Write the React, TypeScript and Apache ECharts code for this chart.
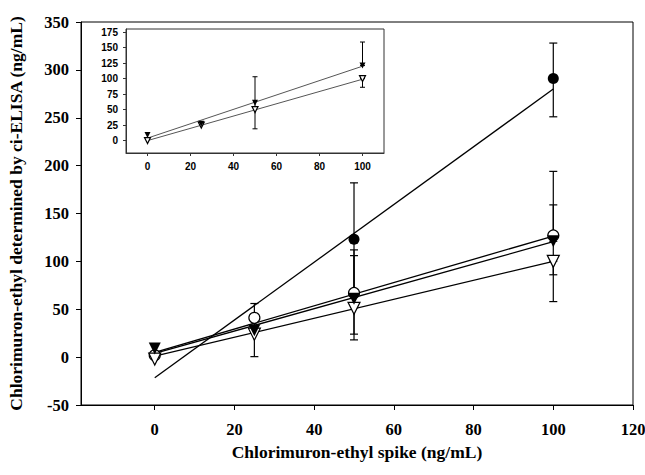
import React, { useEffect, useRef } from "react";
import * as echarts from "echarts";

// ---- Main chart data ----
const spike = [0, 25, 50, 100];
const filledCircleY: (number | null)[] = [null, null, 123, 291];
const openCircleY = [2, 41, 67, 127];
const filledTriY = [9, 28, 61, 121];
const openTriY = [-2, 24, 51, 100];

// error bars: [x, low, high]
const filledCircleErr = [[50, 64, 182], [100, 251, 328]];
const openCircleErr = [[50, 24, 112], [100, 58, 194]];
const filledTriErr = [[25, 0.5, 56], [50, 18, 106], [100, 121, 159]];
const openTriErr = [[100, 86, 100]];

// regression lines: [x0, y0, x1, y1]
const filledCircleFit = [0, -21.5, 100, 280];
const openCircleFit = [0, 5, 100, 126.5];
const filledTriFit = [0, 4, 100, 120.5];
const openTriFit = [0, 1, 100, 100];

const mainXTicks = [0, 20, 40, 60, 80, 100, 120];

// ---- Inset data ----
const insetSpike = [0, 25, 50, 100];
const insetFilledTriY = [9, 27, 61, 121];
const insetOpenTriY = [0, 25, 50, 100];
const insetFilledTriErr = [[50, 19, 103], [100, 121, 159]];
const insetOpenTriErr = [[100, 86, 100]];
const insetFilledTriFit = [0, 4, 100, 120];
const insetOpenTriFit = [0, 0, 100, 99];
const insetXTicks = [0, 20, 40, 60, 80, 100];
const insetYTicks = [0, 25, 50, 75, 100, 125, 150, 175];

const pairs = (xs: number[], ys: (number | null)[]) =>
  xs.map((x, i) => [x, ys[i]]).filter((p) => p[1] !== null);
const fitLine = (f: number[]) => [[f[0], f[1]], [f[2], f[3]]];

function errRender(capHalf: number, width: number) {
  return (params: any, api: any) => {
    const x = api.value(0);
    const lo = api.value(1);
    const hi = api.value(2);
    const pLo = api.coord([x, lo]);
    const pHi = api.coord([x, hi]);
    const style = { stroke: "#000", lineWidth: width, fill: "none" };
    return {
      type: "group",
      children: [
        { type: "line", shape: { x1: pLo[0], y1: pLo[1], x2: pHi[0], y2: pHi[1] }, style },
        { type: "line", shape: { x1: pHi[0] - capHalf, y1: pHi[1], x2: pHi[0] + capHalf, y2: pHi[1] }, style },
        { type: "line", shape: { x1: pLo[0] - capHalf, y1: pLo[1], x2: pLo[0] + capHalf, y2: pLo[1] }, style },
      ],
    };
  };
}

export default function App() {
  const ref = useRef<HTMLDivElement>(null);
  useEffect(() => {
    if (!ref.current) return;
    const chart = echarts.init(ref.current, null, { renderer: "svg" });
    const serif = "'Liberation Serif', 'Times New Roman', serif";
    const sans = "'Liberation Sans', Arial, sans-serif";

    const errSeries = (data: number[][], xi: number, cap: number, w: number) => ({
      type: "custom",
      xAxisIndex: xi,
      yAxisIndex: xi,
      renderItem: errRender(cap, w),
      data,
      encode: { x: 0, y: [1, 2] },
      z: 2,
      silent: true,
    });
    const lineSeries = (data: number[][], xi: number, color: string, w: number) => ({
      type: "line",
      xAxisIndex: xi,
      yAxisIndex: xi,
      data,
      symbol: "none",
      lineStyle: { color, width: w },
      z: 3,
      silent: true,
    });
    const markSeries = (
      data: any[],
      xi: number,
      symbol: string,
      size: number,
      filled: boolean,
      rotate = 0
    ) => ({
      type: "scatter",
      xAxisIndex: xi,
      yAxisIndex: xi,
      data,
      symbol,
      symbolSize: size,
      symbolRotate: rotate,
      itemStyle: {
        color: filled ? "#000" : "#fff",
        borderColor: "#000",
        borderWidth: filled ? 0 : 1.2,
        opacity: 1,
      },
      z: 4,
      silent: true,
    });

    const option: any = {
      animation: false,
      backgroundColor: "#fff",
      grid: [
        {
          left: 81,
          top: 22,
          width: 552,
          height: 383,
          show: true,
          borderColor: "#000",
          borderWidth: 1,
          backgroundColor: "#fff",
          outerBoundsMode: "none",
        },
        {
          left: 126,
          top: 29,
          width: 258,
          height: 124,
          show: true,
          borderColor: "#333",
          borderWidth: 1,
          backgroundColor: "#fff",
          outerBoundsMode: "none",
          z: 10,
        },
      ],
      xAxis: [
        {
          type: "value",
          gridIndex: 0,
          min: -18.5,
          max: 120,
          name: "Chlorimuron-ethyl spike (ng/mL)",
          nameLocation: "middle",
          nameGap: 38,
          nameTextStyle: { fontFamily: serif, fontWeight: "bold", fontSize: 17.5, color: "#000" },
          axisLine: { show: true, onZero: false, lineStyle: { color: "#000", width: 1 } },
          axisTick: { show: true, inside: false, length: 5, customValues: mainXTicks, lineStyle: { color: "#000" } },
          axisLabel: {
            customValues: mainXTicks,
            fontFamily: serif,
            fontWeight: "bold",
            fontSize: 16.5,
            color: "#000",
            margin: 16,
          },
          splitLine: { show: false },
        },
        {
          type: "value",
          gridIndex: 1,
          min: -10,
          max: 110,
          axisLine: { show: true, onZero: false, lineStyle: { color: "#333", width: 1 } },
          axisTick: { show: true, inside: false, length: 3, customValues: insetXTicks, lineStyle: { color: "#333" } },
          axisLabel: {
            customValues: insetXTicks,
            fontFamily: sans,
            fontWeight: "bold",
            fontSize: 10,
            color: "#000",
            margin: 8,
          },
          splitLine: { show: false },
          z: 11,
        },
      ],
      yAxis: [
        {
          type: "value",
          gridIndex: 0,
          min: -50,
          max: 350,
          interval: 50,
          name: "Chlorimuron-ethyl determined by ci-ELISA (ng/mL)",
          nameLocation: "middle",
          nameGap: 56,
          nameTextStyle: { fontFamily: serif, fontWeight: "bold", fontSize: 17.5, color: "#000" },
          axisLine: { show: true, onZero: false, lineStyle: { color: "#000", width: 1 } },
          axisTick: { show: true, inside: false, length: 5, lineStyle: { color: "#000" } },
          axisLabel: {
            fontFamily: serif,
            fontWeight: "bold",
            fontSize: 16.5,
            color: "#000",
            margin: 12,
          },
          splitLine: { show: false },
        },
        {
          type: "value",
          gridIndex: 1,
          min: -20,
          max: 180,
          axisLine: { show: true, onZero: false, lineStyle: { color: "#333", width: 1 } },
          axisTick: { show: true, inside: false, length: 3, customValues: insetYTicks, lineStyle: { color: "#333" } },
          axisLabel: {
            customValues: insetYTicks,
            fontFamily: sans,
            fontWeight: "bold",
            fontSize: 10,
            color: "#000",
            margin: 8,
          },
          splitLine: { show: false },
          z: 11,
        },
      ],
      series: [
        // main error bars
        errSeries(filledCircleErr, 0, 4, 1.2),
        errSeries(openCircleErr, 0, 4, 1.2),
        errSeries(filledTriErr, 0, 4, 1.2),
        errSeries(openTriErr, 0, 4, 1.2),
        // main regression lines
        lineSeries(fitLine(filledCircleFit), 0, "#000", 1.3),
        lineSeries(fitLine(openCircleFit), 0, "#000", 1.3),
        lineSeries(fitLine(filledTriFit), 0, "#000", 1.3),
        lineSeries(fitLine(openTriFit), 0, "#000", 1.3),
        // main markers
        markSeries(pairs(spike, filledCircleY), 0, "circle", 11, true),
        markSeries(pairs(spike, openCircleY), 0, "circle", 11, false),
        markSeries(pairs(spike, openTriY), 0, "triangle", 12, false, 180),
        markSeries(pairs(spike, filledTriY), 0, "triangle", 12, true, 180),
        // inset
        { ...errSeries(insetFilledTriErr, 1, 2.5, 1), z: 12 },
        { ...errSeries(insetOpenTriErr, 1, 2.5, 1), z: 12 },
        { ...lineSeries(fitLine(insetFilledTriFit), 1, "#555", 1), z: 13 },
        { ...lineSeries(fitLine(insetOpenTriFit), 1, "#555", 1), z: 13 },
        { ...markSeries(pairs(insetSpike, insetOpenTriY), 1, "triangle", 6, false, 180), z: 14 },
        { ...markSeries(pairs(insetSpike, insetFilledTriY), 1, "triangle", 6, true, 180), z: 14 },
      ],
    };
    chart.setOption(option);
    return () => chart.dispose();
  }, []);
  return <div ref={ref} style={{ width: 645, height: 475, position: "absolute", left: 0, top: 0 }} />;
}
